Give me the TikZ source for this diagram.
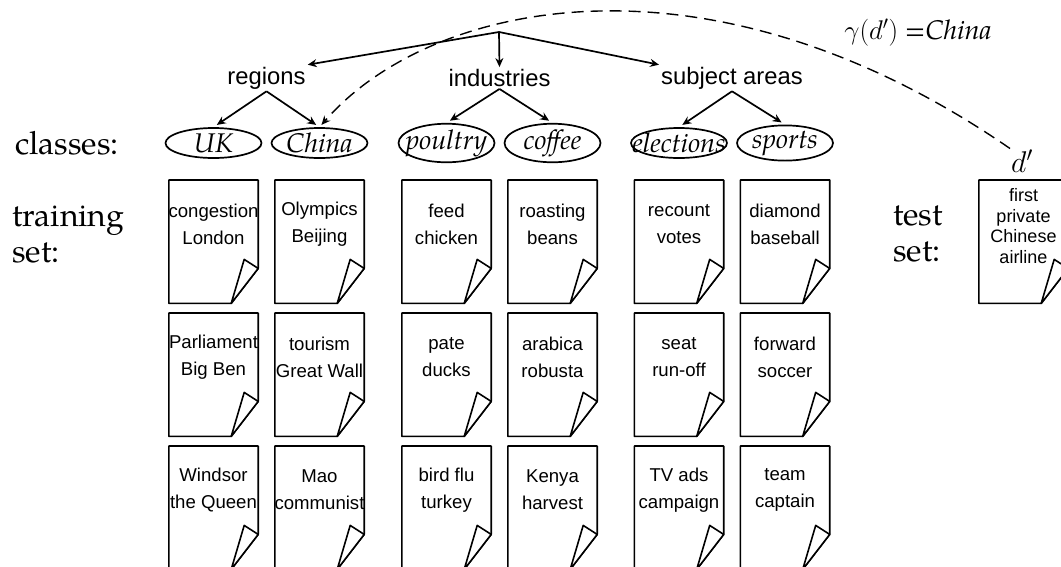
\RequirePackage{fix-cm}
\documentclass[tikz,border=0pt]{standalone}
\usepackage{fontspec}
\IfFontExistsTF{TeX Gyre Pagella}{\setmainfont{TeX Gyre Pagella}}{}
\setsansfont{Liberation Sans}
\usetikzlibrary{arrows.meta,shapes.geometric,calc}

\tikzset{
  docbox/.style={minimum width=89pt, minimum height=123pt, inner sep=0pt},
  docline/.style={line width=1.6pt, line join=round},
  doctext/.style={font=\sffamily\fontsize{18.6}{27}\selectfont, align=center, inner sep=0pt},
  testtext/.style={font=\sffamily\fontsize{18}{20.5}\selectfont, align=center, inner sep=0pt},
  cls/.style={ellipse, draw, line width=1.7pt, minimum width=96pt, minimum height=30pt, inner sep=0pt,
              font=\fontsize{27}{30}\selectfont\itshape},
  cat/.style={font=\sffamily\fontsize{23.8}{28}\selectfont, inner sep=2pt},
  side/.style={font=\fontsize{32}{36}\selectfont, align=left, inner sep=0pt, anchor=west},
  arr/.style={line width=1.7pt, -{Stealth[length=9pt,width=8pt,inset=3pt]}},
  dasharr/.style={line width=1.4pt, dash pattern=on 12pt off 7pt, -{Stealth[length=9pt,width=8pt,inset=3pt]}}
}

\newcommand\mydoc[3]{%
  \node[docbox, anchor=north] (#1) at (#2,#3) {};
  \draw[docline] (#1.north west) -- (#1.north east) -- ($(#1.south east)+(0,-35)$)
     -- ($(#1.south east)+(-27,0)$) -- (#1.south west) -- cycle;
  \draw[docline, fill=white] ($(#1.south east)+(-27,0)$) -- ($(#1.south east)+(-14,-44)$)
     -- ($(#1.south east)+(0,-35)$) -- cycle;
}

\begin{document}
\begin{tikzpicture}[x=1pt,y=-1pt]
\path[use as bounding box] (0,0) rectangle (1061,566);
\clip (0,0) rectangle (1061,566);

% side labels
\node[side] (classes) at (15,143) {classes:};
\node[side] (training) at (12,235) {training\\set:};
\node[side] (testset) at (893,234) {test\\set:};

% hierarchy
\coordinate (root) at (499,32);
\node[cat] (regions) at (266.5,78) {regions};
\node[cat] (industries) at (499.5,78) {industries};
\node[cat] (subj) at (732,78) {subject areas};

\node[cls] (uk) at (213.5,143) {\makebox[0pt]{UK}};
\node[cls] (china) at (319.5,143) {\makebox[0pt]{China}};
\node[cls] (poultry) at (446.5,143) {\makebox[0pt]{poultry}};
\node[cls] (coffee) at (552.5,143) {\makebox[0pt]{coffee}};
\node[cls] (elections) at (679,143) {\makebox[0pt]{elections}};
\node[cls] (sports) at (785,143) {\makebox[0pt]{sports}};

\draw[arr] (root) -- (regions.north east);
\draw[arr] (root) -- (industries.north);
\draw[arr] (root) -- (subj.north west);

\foreach \p/\a/\b in {regions/uk/china, industries/poultry/coffee, subj/elections/sports}{
  \draw[arr, shorten >=4pt] (\p.south) -- (\a.north);
  \draw[arr, shorten >=4pt] (\p.south) -- (\b.north);
}

% documents
\mydoc{d11}{213.5}{180}
\mydoc{d12}{319.5}{180}
\mydoc{d13}{446.5}{180}
\mydoc{d14}{552.5}{180}
\mydoc{d15}{679}{180}
\mydoc{d16}{785}{180}
\mydoc{d21}{213.5}{313}
\mydoc{d22}{319.5}{313}
\mydoc{d23}{446.5}{313}
\mydoc{d24}{552.5}{313}
\mydoc{d25}{679}{313}
\mydoc{d26}{785}{313}
\mydoc{d31}{213.5}{446}
\mydoc{d32}{319.5}{446}
\mydoc{d33}{446.5}{446}
\mydoc{d34}{552.5}{446}
\mydoc{d35}{679}{446}
\mydoc{d36}{785}{446}
\mydoc{dt}{1023.5}{180}

\node[doctext] (t11) at ($(d11.north)+(0,44)$) {congestion\\London};
\node[doctext] (t12) at ($(d12.north)+(0,44)$) {Olympics\\Beijing};
\node[doctext] (t13) at ($(d13.north)+(0,44)$) {feed\\chicken};
\node[doctext] (t14) at ($(d14.north)+(0,44)$) {roasting\\beans};
\node[doctext] (t15) at ($(d15.north)+(0,44)$) {recount\\votes};
\node[doctext] (t16) at ($(d16.north)+(0,44)$) {diamond\\baseball};
\node[doctext] (t21) at ($(d21.north)+(0,44)$) {Parliament\\Big Ben};
\node[doctext] (t22) at ($(d22.north)+(0,44)$) {tourism\\Great Wall};
\node[doctext] (t23) at ($(d23.north)+(0,44)$) {pate\\ducks};
\node[doctext] (t24) at ($(d24.north)+(0,44)$) {arabica\\robusta};
\node[doctext] (t25) at ($(d25.north)+(0,44)$) {seat\\run-off};
\node[doctext] (t26) at ($(d26.north)+(0,44)$) {forward\\soccer};
\node[doctext] (t31) at ($(d31.north)+(0,44)$) {Windsor\\the Queen};
\node[doctext] (t32) at ($(d32.north)+(0,44)$) {Mao\\communist};
\node[doctext] (t33) at ($(d33.north)+(0,44)$) {bird flu\\turkey};
\node[doctext] (t34) at ($(d34.north)+(0,44)$) {Kenya\\harvest};
\node[doctext] (t35) at ($(d35.north)+(0,44)$) {TV ads\\campaign};
\node[doctext] (t36) at ($(d36.north)+(0,44)$) {team\\captain};
\node[testtext] (tt) at ($(dt.north)+(0,46)$) {first\\private\\Chinese\\airline};

% test document label and classification
\node[font=\fontsize{30}{34}\selectfont, inner sep=1pt] (dprime) at (1022,161) {$d'$};
\node[font=\fontsize{27}{30}\selectfont, inner sep=0pt] (gamma) at (918,33) {$\gamma(d')$ =\textit{China}};
\draw[dasharr, shorten >=3pt] (dprime.north west) .. controls (708,-60) and (430,0) .. (china.north);
\end{tikzpicture}
\end{document}
